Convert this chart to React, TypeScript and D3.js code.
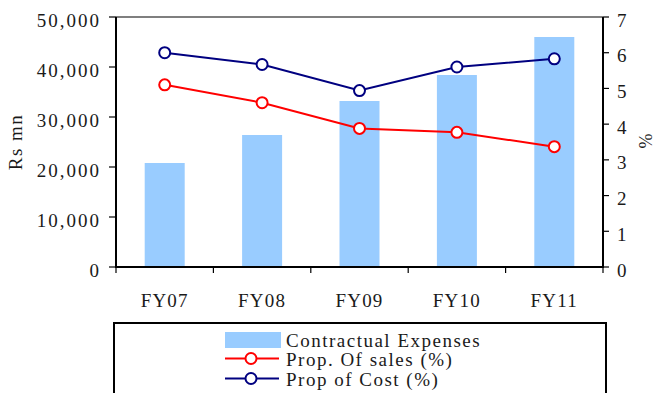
import React from "react";
import * as d3 from "d3";

const categories = ["FY07", "FY08", "FY09", "FY10", "FY11"];
const contractualExpenses = [20800, 26400, 33200, 38400, 46000];
const propOfSales = [5.1, 4.6, 3.88, 3.77, 3.37];
const propOfCost = [6.0, 5.67, 4.94, 5.6, 5.83];
const leftTicks = [0, 10000, 20000, 30000, 40000, 50000];
const rightTicks = [0, 1, 2, 3, 4, 5, 6, 7];
const legendLabels = ["Contractual Expenses", "Prop. Of sales (%)", "Prop of Cost (%)"];

const W = 657;
const H = 393;
const M = { left: 116, right: 603, top: 17, bottom: 267 };
const FONT = "Liberation Serif";
const BAR = "#99CCFF";
const RED = "#FF0000";
const NAVY = "#000080";
const INK = "#1a1a1a";

export default function App() {
  const x = d3.scaleBand<string>().domain(categories).range([M.left, M.right]);
  const yL = d3.scaleLinear().domain([0, 50000]).range([M.bottom, M.top]);
  const yR = d3.scaleLinear().domain([0, 7]).range([M.bottom, M.top]);
  const cx = (c: string) => (x(c) ?? 0) + x.bandwidth() / 2;
  const barW = 40;
  const fmt = d3.format(",");

  const line = d3
    .line<number>()
    .x((_, i) => cx(categories[i]))
    .y((d) => yR(d));

  const boundaries = [...categories.map((c) => x(c) ?? 0), M.right];

  const series = [
    { values: propOfSales, color: RED, label: legendLabels[1] },
    { values: propOfCost, color: NAVY, label: legendLabels[2] },
  ];

  return (
    <svg
      width={W}
      height={H}
      style={{ position: "absolute", left: 0, top: 0, background: "#fff" }}
    >
      {/* bars */}
      {contractualExpenses.map((v, i) => (
        <rect
          key={categories[i]}
          x={cx(categories[i]) - barW / 2}
          y={yL(v)}
          width={barW}
          height={M.bottom - yL(v)}
          fill={BAR}
        />
      ))}

      {/* frame */}
      <line x1={M.left} x2={M.right} y1={M.top} y2={M.top} stroke="#000" strokeWidth={1.2} />
      <line x1={M.left} x2={M.left} y1={M.top} y2={M.bottom + 1} stroke="#000" strokeWidth={2} />
      <line x1={M.right} x2={M.right} y1={M.top} y2={M.bottom + 1} stroke="#000" strokeWidth={2} />
      <line x1={M.left} x2={M.right} y1={M.bottom} y2={M.bottom} stroke="#000" strokeWidth={2} />

      {/* left axis */}
      {leftTicks.map((t) => (
        <g key={t}>
          <line x1={M.left - 7} x2={M.left} y1={yL(t)} y2={yL(t)} stroke="#000" strokeWidth={1.2} />
          <text
            x={M.left - 15}
            y={yL(t) + 3}
            textAnchor="end"
            dominantBaseline="central"
            fontFamily={FONT}
            fontSize={19}
            letterSpacing={2}
            fill={INK}
          >
            {fmt(t)}
          </text>
        </g>
      ))}

      {/* right axis */}
      {rightTicks.map((t) => (
        <g key={t}>
          <line x1={M.right} x2={M.right + 6} y1={yR(t)} y2={yR(t)} stroke="#000" strokeWidth={1.2} />
          <text
            x={M.right + 14}
            y={yR(t) + 3}
            textAnchor="start"
            dominantBaseline="central"
            fontFamily={FONT}
            fontSize={19}
            fill={INK}
          >
            {t}
          </text>
        </g>
      ))}

      {/* bottom axis */}
      {boundaries.map((b, i) => (
        <line key={i} x1={b} x2={b} y1={M.bottom} y2={M.bottom + 6} stroke="#000" strokeWidth={1.2} />
      ))}
      {categories.map((c) => (
        <text
          key={c}
          x={cx(c)}
          y={307}
          textAnchor="middle"
          fontFamily={FONT}
          fontSize={19}
          letterSpacing={1.2}
          fill={INK}
        >
          {c}
        </text>
      ))}

      {/* axis titles */}
      <text
        transform="translate(22,142) rotate(-90)"
        textAnchor="middle"
        fontFamily={FONT}
        fontSize={19}
        letterSpacing={1.5}
        fill={INK}
      >
        Rs mn
      </text>
      <text
        transform="translate(652,141) rotate(-90)"
        textAnchor="middle"
        fontFamily={FONT}
        fontSize={18}
        fill={INK}
      >
        %
      </text>

      {/* lines */}
      {series.map((s, si) => (
        <g key={si}>
          <path d={line(s.values) ?? ""} fill="none" stroke={s.color} strokeWidth={2} />
          {s.values.map((v, i) => (
            <circle
              key={i}
              cx={cx(categories[i])}
              cy={yR(v)}
              r={5.5}
              fill="#fff"
              stroke={s.color}
              strokeWidth={2}
            />
          ))}
        </g>
      ))}

      {/* legend */}
      <rect x={114} y={323} width={492} height={80} fill="#fff" stroke="#000" strokeWidth={2} />
      <rect x={225} y={332} width={56} height={16} fill={BAR} />
      <text x={286} y={346.5} fontFamily={FONT} fontSize={19} letterSpacing={1.5} fill={INK}>
        {legendLabels[0]}
      </text>
      {series.map((s, si) => {
        const ly = 358.5 + si * 20;
        return (
          <g key={si}>
            <line x1={225} x2={279} y1={ly} y2={ly} stroke={s.color} strokeWidth={2} />
            <circle cx={251} cy={ly} r={5.5} fill="#fff" stroke={s.color} strokeWidth={2} />
            <text x={286} y={ly + 7} fontFamily={FONT} fontSize={19} letterSpacing={1.5} fill={INK}>
              {s.label}
            </text>
          </g>
        );
      })}
    </svg>
  );
}
